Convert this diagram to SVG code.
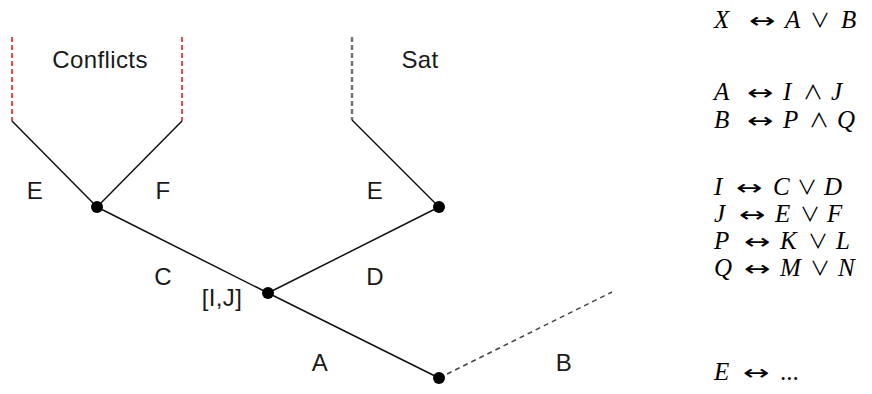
<svg xmlns="http://www.w3.org/2000/svg" width="872" height="394" viewBox="0 0 872 394">
<style>
.e{stroke:#111;stroke-width:1.5;fill:none}
.r{stroke:#f04a4a;stroke-width:2;stroke-dasharray:5,3;fill:none}
.g{stroke:#777;stroke-width:2.5;stroke-dasharray:5,3;fill:none}
.b{stroke:#444;stroke-width:1.5;stroke-dasharray:5,4;fill:none}
.lbl{font-family:"Liberation Sans",Arial,sans-serif;font-size:24px;letter-spacing:0.4px;fill:#1a1a1a}
.m{font-family:"Liberation Serif","DejaVu Serif",serif;font-size:25px;fill:#000}
.i{font-style:italic}
.a{font-family:"DejaVu Sans",sans-serif;font-size:21px;fill:#000}
.o{font-family:"Noto Sans CJK JP","DejaVu Serif",serif;font-size:20px}
</style>
<rect width="872" height="394" fill="#fff"/>
<g id="connectors">
<line class="r" x1="12" y1="37" x2="12" y2="121"/>
<line class="r" x1="182" y1="37" x2="182" y2="121"/>
<line class="g" x1="352" y1="37" x2="352" y2="120"/>
<line class="e" x1="12" y1="121" x2="97" y2="207"/>
<line class="e" x1="182" y1="121" x2="97" y2="207"/>
<line class="e" x1="352" y1="120" x2="439" y2="207"/>
<line class="e" x1="97" y1="207" x2="268" y2="293"/>
<line class="e" x1="439" y1="207" x2="268" y2="293"/>
<line class="e" x1="268" y1="293" x2="439" y2="378"/>
<line class="b" x1="439" y1="378" x2="612" y2="292"/>
<text class="lbl" x="35" y="199" text-anchor="middle">E</text>
<text class="lbl" x="163" y="199" text-anchor="middle">F</text>
<text class="lbl" x="375" y="199" text-anchor="middle">E</text>
<text class="lbl" x="163" y="285" text-anchor="middle">C</text>
<text class="lbl" x="375" y="285" text-anchor="middle">D</text>
<text class="lbl" x="320" y="371" text-anchor="middle">A</text>
<text class="lbl" x="564" y="371" text-anchor="middle">B</text>
</g>
<g id="conflicts"><text class="lbl" x="100" y="68" text-anchor="middle">Conflicts</text></g>
<g id="sat"><text class="lbl" x="420" y="68" text-anchor="middle">Sat</text></g>
<g id="n1"><circle cx="97" cy="207" r="6"/></g>
<g id="n2"><circle cx="268" cy="293" r="6"/><text class="lbl" x="222" y="306" text-anchor="middle">[I,J]</text></g>
<g id="n3"><circle cx="439" cy="207" r="6"/></g>
<g id="n4"><circle cx="439" cy="378" r="6"/></g>
<g id="formulas" class="m">
<g id="f1"><text class="i" x="714" y="28">X</text><text class="a" transform="translate(749,28) scale(1.5,1)">↔</text><text y="28"><tspan class="i" x="785">A</tspan><tspan class="o" x="810">∨</tspan><tspan class="i" x="841">B</tspan></text></g>
<g id="f2"><text class="i" x="714" y="100">A</text><text class="a" transform="translate(747,100) scale(1.5,1)">↔</text><text y="100"><tspan class="i" x="783">I</tspan><tspan class="o" x="803">∧</tspan><tspan class="i" x="831">J</tspan></text></g>
<g id="f3"><text class="i" x="714" y="128">B</text><text class="a" transform="translate(747,128) scale(1.5,1)">↔</text><text y="128"><tspan class="i" x="783">P</tspan><tspan class="o" x="809">∧</tspan><tspan class="i" x="837">Q</tspan></text></g>
<g id="f4"><text class="i" x="714" y="195">I</text><text class="a" transform="translate(736,195) scale(1.5,1)">↔</text><text y="195"><tspan class="i" x="773">C</tspan><tspan class="o" x="797">∨</tspan><tspan class="i" x="824">D</tspan></text></g>
<g id="f5"><text class="i" x="714" y="222">J</text><text class="a" transform="translate(739,222) scale(1.5,1)">↔</text><text y="222"><tspan class="i" x="775">E</tspan><tspan class="o" x="800">∨</tspan><tspan class="i" x="827">F</tspan></text></g>
<g id="f6"><text class="i" x="714" y="249">P</text><text class="a" transform="translate(744,249) scale(1.5,1)">↔</text><text y="249"><tspan class="i" x="780">K</tspan><tspan class="o" x="808">∨</tspan><tspan class="i" x="836">L</tspan></text></g>
<g id="f7"><text class="i" x="714" y="276">Q</text><text class="a" transform="translate(744,276) scale(1.5,1)">↔</text><text y="276"><tspan class="i" x="780">M</tspan><tspan class="o" x="810">∨</tspan><tspan class="i" x="838">N</tspan></text></g>
<g id="f8"><text class="i" x="714" y="380">E</text><text class="a" transform="translate(743,380) scale(1.5,1)">↔</text><text x="780" y="380">...</text></g>
</g>
</svg>
